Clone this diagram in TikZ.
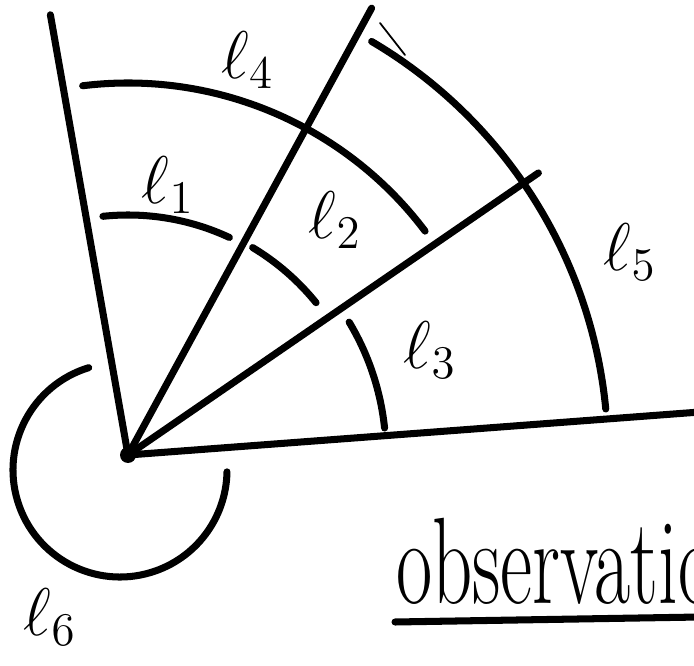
\documentclass[tikz,border=0pt]{standalone}
\usepackage{graphicx}
\begin{document}
\begin{tikzpicture}[line width=4pt,line cap=round]
 \clip (0,0) rectangle (13.88,13.3);
 \coordinate (O) at (2.56,4.2);
 \coordinate (C6) at (2.4,3.9);
 \draw (O) -- ++(100:8.94);
 \draw (O) -- ++(61.4:10.18);
 \draw (O) -- ++(34.5:9.96);
 \draw (O) -- ++(4.3:11.4);
 \fill (O) circle (.16);
 \draw (O) ++(96:4.8) arc[start angle=96,end angle=65,radius=4.8];
 \draw (O) ++(59:4.84) arc[start angle=59,end angle=39,radius=4.84];
 \draw (O) ++(31:5.16) arc[start angle=31,end angle=6,radius=5.16];
 \draw (O) ++(97:7.44) arc[start angle=97,end angle=37,radius=7.44];
 \draw (O) ++(59.5:9.6) arc[start angle=59.5,end angle=5.5,radius=9.6];
 \draw (C6) ++(107:2.14) arc[start angle=107,end angle=359,radius=2.14];
 \draw[line width=1pt] (7.6,12.84) -- (8.1,12.2);
 \node (l1) at (3.36,9.6) {\scalebox{1.85}{\huge$\ell_1$}};
 \node (l4) at (4.95,12.1) {\scalebox{1.85}{\huge$\ell_4$}};
 \node (l2) at (6.7,8.9) {\scalebox{1.85}{\huge$\ell_2$}};
 \node (l3) at (8.6,6.3) {\scalebox{1.85}{\huge$\ell_3$}};
 \node (l5) at (12.6,8.25) {\scalebox{1.85}{\huge$\ell_5$}};
 \node (l6) at (1.0,0.95) {\scalebox{1.85}{\huge$\ell_6$}};
 \node[anchor=base west,inner sep=0] (obs) at (7.85,1.24) {\scalebox{.64}[1]{\fontsize{70}{80}\selectfont observation}};
 \draw (7.9,0.86) -- (14,0.96);
\end{tikzpicture}
\end{document}
